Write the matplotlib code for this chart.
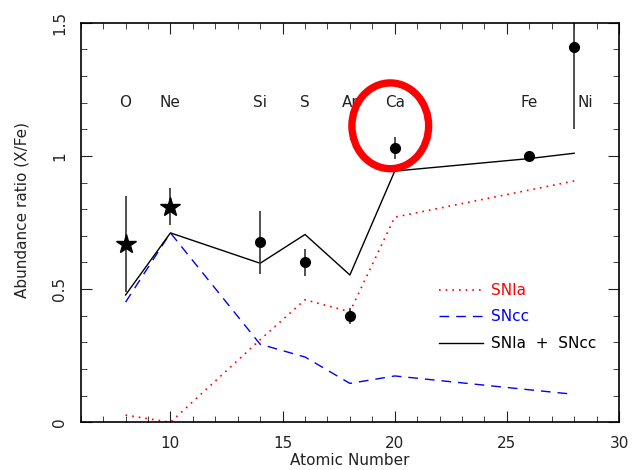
import matplotlib
matplotlib.use('Agg')
import matplotlib.pyplot as plt
from matplotlib.patches import Ellipse
from matplotlib.ticker import MultipleLocator

# observed abundances (X/Fe)
obs_z = [8, 10, 14, 16, 18, 20, 26, 28]
obs_val = [0.67, 0.81, 0.675, 0.60, 0.40, 1.03, 1.00, 1.41]
obs_err = [0.18, 0.07, 0.12, 0.05, 0.03, 0.04, 0.0, 0.31]
star_idx = [0, 1]      # O, Ne drawn as stars
circle_idx = [2, 3, 4, 5, 6, 7]

# model curves
model_z = [8, 10, 14, 16, 18, 20, 26, 28]
snia = [0.027, 0.0, 0.31, 0.46, 0.415, 0.77, 0.872, 0.906]
sncc = [0.451, 0.711, 0.293, 0.245, 0.146, 0.174, 0.122, 0.105]
total = [0.478, 0.711, 0.597, 0.705, 0.553, 0.943, 0.99, 1.01]

# element labels
elem_names = ['O', 'Ne', 'Si', 'S', 'Ar', 'Ca', 'Fe', 'Ni']
elem_x = [8, 10, 14, 16, 18, 20, 26, 28.5]
elem_y = 1.2

fig = plt.figure(figsize=(6.33, 4.70), dpi=100)
ax = fig.add_axes([0.1275, 0.1015, 0.8505, 0.8502])

fs = 11
txtc = '#222222'
ax.plot(model_z, snia, color='red', ls=(0, (1, 3)), lw=1.2, label='SNIa')
ax.plot(model_z, sncc, color='blue', ls=(0, (7, 5)), lw=1.0, label='SNcc')
ax.plot(model_z, total, color='black', lw=1.0, label='SNIa  +  SNcc')

for idx, mk, ms in [(star_idx, '*', 15), (circle_idx, 'o', 7)]:
    ax.errorbar([obs_z[i] for i in idx], [obs_val[i] for i in idx],
                yerr=[obs_err[i] for i in idx], fmt=mk, ms=ms,
                color='black', ecolor='#333333', elinewidth=1.2, capsize=0)

for name, x in zip(elem_names, elem_x):
    ax.text(x, elem_y, name, ha='center', va='center', fontsize=fs, color=txtc)

ax.add_patch(Ellipse((19.8, 1.113), 3.42, 0.322, fill=False,
                     edgecolor='red', lw=5.3, zorder=10))

ax.set_xlim(6, 30)
ax.set_ylim(0, 1.5)
ax.xaxis.set_major_locator(MultipleLocator(5))
ax.xaxis.set_minor_locator(MultipleLocator(1))
ax.yaxis.set_minor_locator(MultipleLocator(0.1))
ax.set_yticks([0, 0.5, 1, 1.5])
ax.set_yticklabels(['0', '0.5', '1', '1.5'], rotation=90, va='center')
ax.tick_params(which='both', direction='in', top=True, right=True,
               labelsize=fs, colors=txtc)
ax.tick_params(which='major', length=8)
ax.tick_params(which='minor', length=4)
ax.tick_params(axis='x', pad=10)
ax.tick_params(axis='y', pad=10)
for s in ax.spines.values():
    s.set_linewidth(1.2)

ax.set_xlabel('Atomic Number', fontsize=fs, color=txtc)
ax.set_ylabel('Abundance ratio (X/Fe)', fontsize=fs, color=txtc)
ax.yaxis.set_label_coords(-0.096, 0.531)
ax.xaxis.set_label_coords(0.5, -0.078)

ax.legend(loc='upper left', bbox_to_anchor=(0.64, 0.383), frameon=False,
          fontsize=fs, labelcolor=['red', 'blue', 'black'],
          handlelength=2.9, handletextpad=0.5, labelspacing=0.75)

fig.savefig('out.png', dpi=100)
